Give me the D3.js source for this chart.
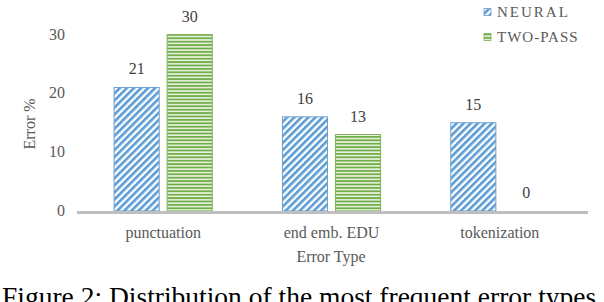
<!DOCTYPE html>
<html><head><meta charset="utf-8">
<script src="https://cdn.jsdelivr.net/npm/d3@7"></script>
<style>body{margin:0;background:#fff}svg{display:block}</style>
</head><body>
<script>
const categories = ["punctuation", "end emb. EDU", "tokenization"];
const seriesNames = ["NEURAL", "TWO-PASS"];
const neural = [21, 16, 15];
const twoPass = [30, 13, 0];
const yTicks = [0, 10, 20, 30];

const W = 604, H = 302;
const svg = d3.select("body").append("svg").attr("width", W).attr("height", H);
const defs = svg.append("defs");

const pb = defs.append("pattern").attr("id","pNeural").attr("patternUnits","userSpaceOnUse")
  .attr("width",5).attr("height",5).attr("patternTransform","rotate(45)");
pb.append("rect").attr("width",5).attr("height",5).attr("fill","#ffffff");
pb.append("rect").attr("width",2.6).attr("height",5).attr("fill","#5b9bd5");
const pg = defs.append("pattern").attr("id","pTwo").attr("patternUnits","userSpaceOnUse")
  .attr("width",6).attr("height",3.4);
pg.append("rect").attr("width",6).attr("height",3.4).attr("fill","#eaf3e3");
pg.append("rect").attr("width",6).attr("height",1.8).attr("fill","#70ad47");

const x0 = d3.scaleBand().domain(categories).range([79, 584]).paddingInner(0.417).paddingOuter(0.2085);
const x1 = d3.scaleBand().domain(seriesNames).range([0, x0.bandwidth()]).paddingInner(0.15);
const y = d3.scaleLinear().domain([0, 30]).range([211, 34.5]);

const font = "'Liberation Serif','Times New Roman',serif";
const gray = "#595959";

svg.append("g").selectAll("text").data(yTicks).join("text")
  .attr("x", 65).attr("y", d => y(d) + 5).attr("text-anchor","end")
  .attr("font-family", font).attr("font-size", 16).attr("fill", gray).text(d => d);

svg.append("text").attr("transform","translate(35,124) rotate(-90)").attr("text-anchor","middle")
  .attr("font-family", font).attr("font-size", 16).attr("fill", gray).text("Error %");

const data = categories.map((c,i) => ({c, vals:[{s:"NEURAL", v:neural[i]},{s:"TWO-PASS", v:twoPass[i]}]}));
const fills = {"NEURAL":"url(#pNeural)","TWO-PASS":"url(#pTwo)"};
const strokes = {"NEURAL":"#6f9fcf","TWO-PASS":"#7fb25a"};

const g = svg.append("g").selectAll("g").data(data).join("g").attr("transform", d => `translate(${x0(d.c)},0)`);
g.selectAll("rect").data(d => d.vals).join("rect")
  .attr("x", d => x1(d.s)).attr("width", x1.bandwidth())
  .attr("y", d => y(d.v)).attr("height", d => y(0) - y(d.v))
  .attr("fill", d => fills[d.s]).attr("stroke", d => d.v > 0 ? strokes[d.s] : "none").attr("stroke-width", 1);
g.selectAll("text").data(d => d.vals).join("text")
  .attr("x", d => x1(d.s) + x1.bandwidth()/2).attr("y", d => y(d.v) - 13)
  .attr("text-anchor","middle").attr("font-family", font).attr("font-size", 16).attr("fill", "#404040")
  .text(d => d.v);

svg.append("line").attr("x1", 77).attr("x2", 588).attr("y1", 212.5).attr("y2", 212.5)
  .attr("stroke", "#bfbfbf").attr("stroke-width", 3);

svg.append("g").selectAll("text").data(categories).join("text")
  .attr("x", d => x0(d) + x0.bandwidth()/2).attr("y", 238).attr("text-anchor","middle")
  .attr("font-family", font).attr("font-size", 16).attr("fill", gray).text(d => d);

svg.append("text").attr("x", 331).attr("y", 262).attr("text-anchor","middle")
  .attr("font-family", font).attr("font-size", 16).attr("fill", gray).text("Error Type");

const lg = svg.append("g").selectAll("g").data(seriesNames).join("g")
  .attr("transform", (d,i) => `translate(484,${12 + i*25})`);
lg.append("rect").attr("x",0).attr("y",-3.5).attr("width",7).attr("height",7)
  .attr("fill", d => fills[d]).attr("stroke", d => strokes[d]).attr("stroke-width",0.8);
lg.append("text").attr("x", 13).attr("y", 5).attr("font-family", font).attr("font-size", 15)
  .attr("letter-spacing", d => d === "NEURAL" ? 2 : 1).attr("fill", gray).text(d => d);

svg.append("text").attr("x", 2).attr("y", 306).attr("font-family", font).attr("font-size", 27.5)
  .attr("fill", "#000").text("Figure 2: Distribution of the most frequent error types");
</script>
</body></html>
